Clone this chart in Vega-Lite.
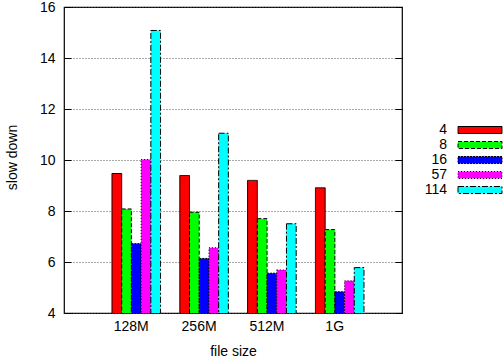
{
  "$schema": "https://vega.github.io/schema/vega-lite/v6.json",
  "width": 338,
  "height": 306,
  "autosize": {"type": "none"},
  "padding": {"left": 64, "top": 7, "right": 101, "bottom": 49},
  "background": "white",
  "config": {
    "font": "Liberation Sans",
    "view": {"stroke": "black", "strokeWidth": 1.2}
  },
  "data": {
    "values": [
      {"size": "128M", "threads": "4", "slowdown": 9.47},
      {"size": "128M", "threads": "8", "slowdown": 8.08},
      {"size": "128M", "threads": "16", "slowdown": 6.72},
      {"size": "128M", "threads": "57", "slowdown": 10.02},
      {"size": "128M", "threads": "114", "slowdown": 15.08},
      {"size": "256M", "threads": "4", "slowdown": 9.39},
      {"size": "256M", "threads": "8", "slowdown": 7.95},
      {"size": "256M", "threads": "16", "slowdown": 6.14},
      {"size": "256M", "threads": "57", "slowdown": 6.56},
      {"size": "256M", "threads": "114", "slowdown": 11.05},
      {"size": "512M", "threads": "4", "slowdown": 9.2},
      {"size": "512M", "threads": "8", "slowdown": 7.7},
      {"size": "512M", "threads": "16", "slowdown": 5.56},
      {"size": "512M", "threads": "57", "slowdown": 5.69},
      {"size": "512M", "threads": "114", "slowdown": 7.5},
      {"size": "1G", "threads": "4", "slowdown": 8.91},
      {"size": "1G", "threads": "8", "slowdown": 7.27},
      {"size": "1G", "threads": "16", "slowdown": 4.83},
      {"size": "1G", "threads": "57", "slowdown": 5.26},
      {"size": "1G", "threads": "114", "slowdown": 5.78}
    ]
  },
  "resolve": {"axis": {"y": "independent"}},
  "layer": [
    {
      "mark": {"type": "bar", "stroke": "black", "strokeWidth": 1, "clip": true},
      "encoding": {
        "x": {
          "field": "size",
          "type": "nominal",
          "sort": ["128M", "256M", "512M", "1G"],
          "scale": {"paddingInner": 0.284, "paddingOuter": 0.634, "align": 0.558},
          "axis": {
            "title": "file size",
            "labelAngle": 0,
            "labelFontSize": 14,
            "labelColor": "black",
            "labelOffset": -5,
            "labelPadding": 6,
            "ticks": false,
            "domain": false,
            "grid": false,
            "titleFontSize": 14,
            "titleFontWeight": "normal",
            "titleColor": "black",
            "titlePadding": 11
          }
        },
        "xOffset": {
          "field": "threads",
          "type": "nominal",
          "sort": ["4", "8", "16", "57", "114"],
          "scale": {"paddingInner": 0, "paddingOuter": 0}
        },
        "y": {
          "field": "slowdown",
          "type": "quantitative",
          "scale": {"domain": [4, 16], "nice": false, "zero": false},
          "axis": {
            "title": "slow down",
            "values": [4, 6, 8, 10, 12, 14, 16],
            "labelFontSize": 14,
            "labelColor": "black",
            "tickSize": -7,
            "tickColor": "black",
            "labelPadding": 16,
            "domain": false,
            "grid": true,
            "gridColor": "#555555",
            "gridDash": [1, 2],
            "gridWidth": 1,
            "titleFontSize": 14,
            "titleFontWeight": "normal",
            "titleColor": "black",
            "titleX": -52,
            "titleY": 150,
            "titleBaseline": "middle"
          }
        },
        "fill": {
          "field": "threads",
          "type": "nominal",
          "sort": ["4", "8", "16", "57", "114"],
          "scale": {
            "domain": ["4", "8", "16", "57", "114"],
            "range": ["#ff0000", "#00ff00", "#0000ff", "#ff00ff", "#00ffff"]
          },
          "legend": {
            "title": null,
            "orient": "none",
            "legendX": 409,
            "legendY": 116,
            "padding": 0,
            "symbolType": "M-4.4,-0.7H4.4V0.7H-4.4Z",
            "symbolSize": 100,
            "symbolStrokeColor": "black",
            "symbolStrokeWidth": 1,
            "symbolOpacity": 1,
            "labelAlign": "right",
            "labelOffset": -40,
            "labelFontSize": 14,
            "labelColor": "black",
            "rowPadding": 1,
            "encode": {"symbols": {"update": {"stroke": {"value": "black"}, "strokeWidth": {"value": 1}}}}
          }
        },
        "strokeDash": {
          "field": "threads",
          "type": "nominal",
          "sort": ["4", "8", "16", "57", "114"],
          "scale": {
            "domain": ["4", "8", "16", "57", "114"],
            "range": [[1, 0], [4, 2], [2, 1], [1, 2], [6, 2, 2, 2]]
          },
          "legend": {
            "title": null,
            "orient": "none",
            "legendX": 409,
            "legendY": 116,
            "padding": 0,
            "symbolType": "M-4.4,-0.7H4.4V0.7H-4.4Z",
            "symbolSize": 100,
            "symbolStrokeColor": "black",
            "symbolStrokeWidth": 1,
            "symbolOpacity": 1,
            "labelAlign": "right",
            "labelOffset": -40,
            "labelFontSize": 14,
            "labelColor": "black",
            "rowPadding": 1,
            "encode": {"symbols": {"update": {"stroke": {"value": "black"}, "strokeWidth": {"value": 1}}}}
          }
        }
      }
    },
    {
      "mark": {"type": "point", "opacity": 0},
      "encoding": {
        "y": {
          "field": "slowdown",
          "type": "quantitative",
          "scale": {"domain": [4, 16], "nice": false, "zero": false},
          "axis": {
            "orient": "right",
            "title": null,
            "values": [4, 6, 8, 10, 12, 14, 16],
            "labels": false,
            "tickSize": -7,
            "tickColor": "black",
            "domain": false,
            "grid": false
          }
        }
      }
    }
  ]
}
